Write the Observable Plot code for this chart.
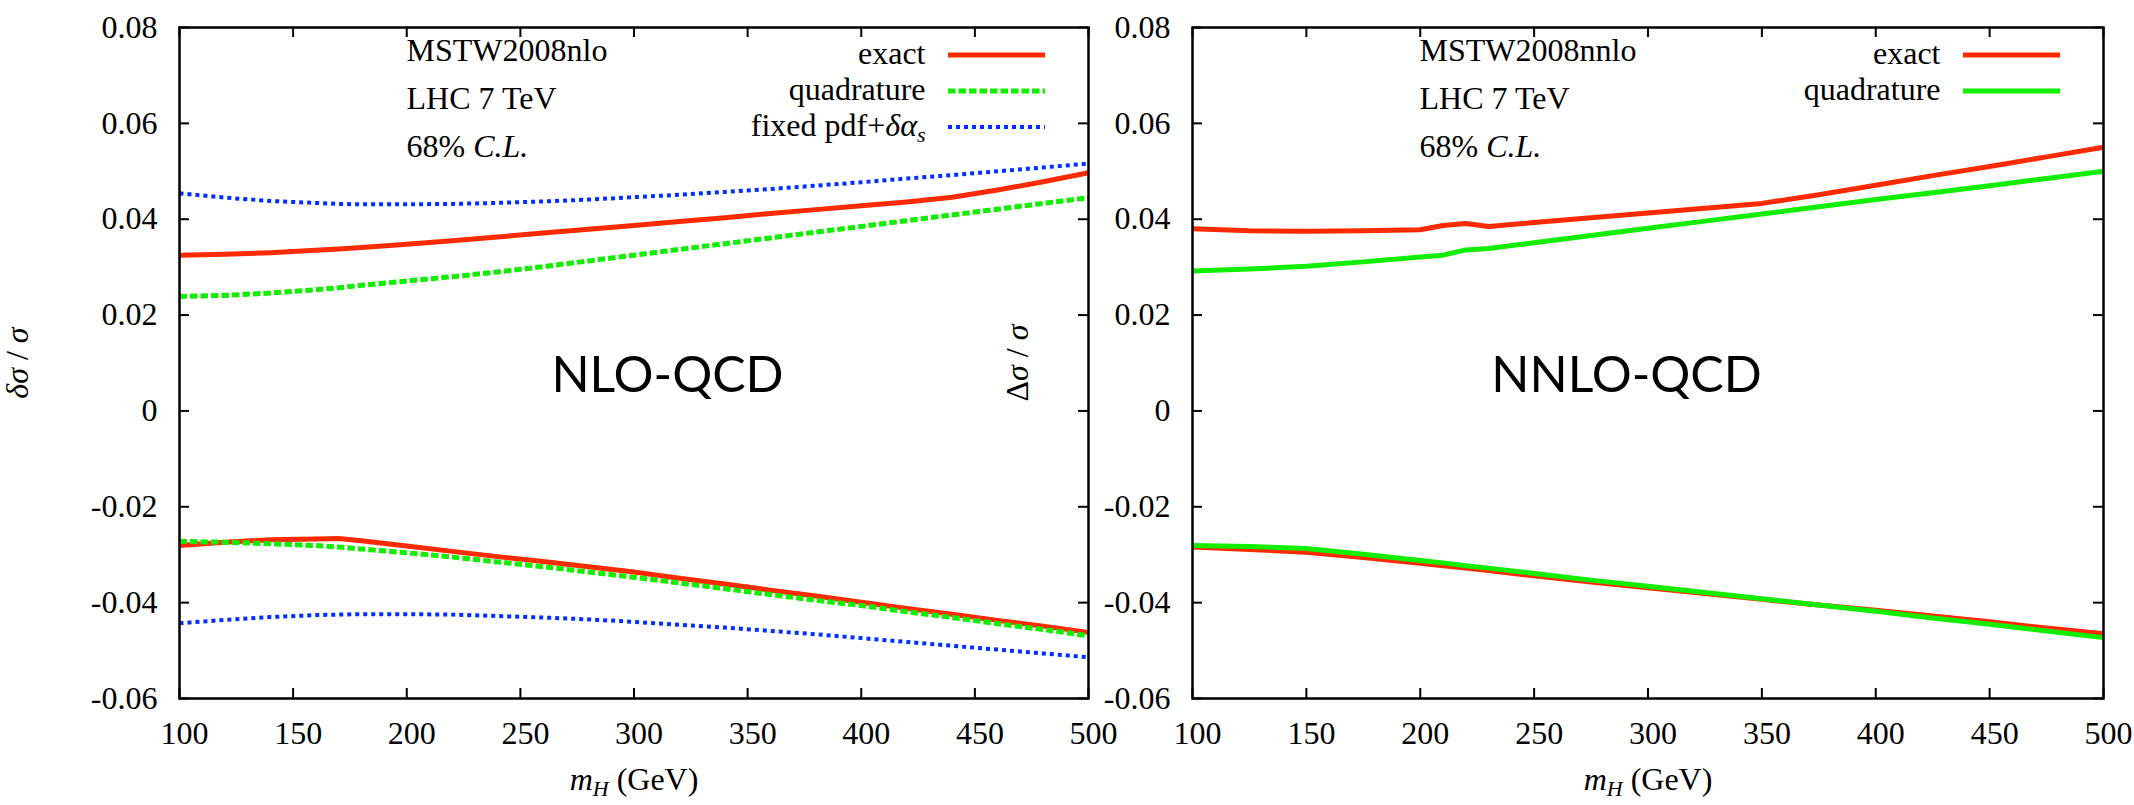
<!DOCTYPE html>
<html><head><meta charset="utf-8">
<script src="https://cdn.jsdelivr.net/npm/d3@7"></script>
<script src="https://cdn.jsdelivr.net/npm/@observablehq/plot@0.6"></script>
<style>
body{margin:0;background:#fff;}
#wrap{position:relative;width:2134px;height:805px;background:#fff;}
#wrap svg{position:absolute;left:0;top:0;}
</style></head><body><div id="wrap"></div>
<script>
// ---------- data ----------
const xTicks = [100,150,200,250,300,350,400,450,500];
const xTickLabels = ["100","150","200","250","300","350","400","450","500"];
const yTicks = [0.08,0.06,0.04,0.02,0,-0.02,-0.04,-0.06];
const yTickLabels = ["0.08","0.06","0.04","0.02","0","-0.02","-0.04","-0.06"];

// NLO panel (MSTW2008nlo)
const mH_nlo =      [100,120,140,160,170,180,200,220,240,260,280,300,320,340,360,380,400,420,440,460,480,500];
const nloExactUp =  [0.0325,0.0327,0.0330,0.0335,0.0338,0.0341,0.0348,0.0355,0.0363,0.0371,0.0379,0.0387,0.0395,0.0403,0.0412,0.0420,0.0428,0.0436,0.0446,0.0461,0.0478,0.0497];
const nloQuadUp =   [0.0239,0.0241,0.0246,0.0253,0.0257,0.0262,0.0271,0.0280,0.0290,0.0301,0.0313,0.0325,0.0337,0.0349,0.0361,0.0373,0.0385,0.0397,0.0409,0.0421,0.0433,0.0445];
const nloFixedUp =  [0.0454,0.0445,0.0438,0.0434,0.0432,0.0431,0.0431,0.0432,0.0434,0.0437,0.0441,0.0446,0.0451,0.0457,0.0463,0.0470,0.0477,0.0485,0.0492,0.0500,0.0508,0.0516];
const nloExactDn =  [-0.0281,-0.0274,-0.0269,-0.0267,-0.0266,-0.0271,-0.0282,-0.0293,-0.0304,-0.0314,-0.0325,-0.0336,-0.0349,-0.0361,-0.0374,-0.0386,-0.0399,-0.0412,-0.0424,-0.0437,-0.0449,-0.0462];
const nloQuadDn =   [-0.0272,-0.0274,-0.0277,-0.0281,-0.0284,-0.0288,-0.0296,-0.0305,-0.0315,-0.0325,-0.0336,-0.0347,-0.0359,-0.0371,-0.0383,-0.0395,-0.0406,-0.0419,-0.0431,-0.0444,-0.0456,-0.0469];
const nloFixedDn =  [-0.0443,-0.0436,-0.0430,-0.0426,-0.0425,-0.0424,-0.0424,-0.0425,-0.0428,-0.0431,-0.0435,-0.0440,-0.0446,-0.0452,-0.0459,-0.0466,-0.0474,-0.0482,-0.0490,-0.0498,-0.0506,-0.0514];

// NNLO panel (MSTW2008nnlo)
const mH_nnlo =      [100,125,150,175,200,210,220,230,250,275,300,325,350,375,400,425,450,475,500];
const nnloExactUp =  [0.0380,0.0376,0.0375,0.0376,0.0378,0.0387,0.0391,0.0385,0.0393,0.0403,0.0413,0.0423,0.0433,0.0451,0.0471,0.0491,0.0510,0.0530,0.0550];
const nnloQuadUp =   [0.0292,0.0296,0.0302,0.0311,0.0321,0.0325,0.0336,0.0339,0.0351,0.0366,0.0381,0.0396,0.0411,0.0426,0.0441,0.0455,0.0470,0.0485,0.0500];
const nnloExactDn =  [-0.0284,-0.0289,-0.0295,-0.0306,-0.0318,-0.0323,-0.0328,-0.0333,-0.0344,-0.0357,-0.0369,-0.0381,-0.0393,-0.0405,-0.0416,-0.0428,-0.0440,-0.0453,-0.0465];
const nnloQuadDn =   [-0.0281,-0.0283,-0.0287,-0.0299,-0.0312,-0.0317,-0.0323,-0.0328,-0.0339,-0.0353,-0.0366,-0.0379,-0.0392,-0.0405,-0.0418,-0.0432,-0.0445,-0.0459,-0.0473];

const nloAnnot = ["MSTW2008nlo","LHC 7 TeV","68% C.L."];
const nnloAnnot = ["MSTW2008nnlo","LHC 7 TeV","68% C.L."];
const nloLegend = ["exact","quadrature","fixed pdf+δα_s"];
const nnloLegend = ["exact","quadrature"];

// ---------- styles ----------
const RED = "#ff2a00", GREEN = "#11ee00", BLUE = "#0030ff";
const styleExact = {stroke: RED, strokeWidth: 5, strokeLinecap: "butt"};
const styleQuadDash = {stroke: GREEN, strokeWidth: 5, strokeDasharray: "7.5,3", strokeLinecap: "butt"};
const styleQuadSolid = {stroke: GREEN, strokeWidth: 5, strokeLinecap: "butt"};
const styleFixed = {stroke: BLUE, strokeWidth: 4, strokeDasharray: "4,4", strokeLinecap: "butt"};

const W = 2134, H = 805, MT = 27, MB = 107;
const SERIF = "Liberation Serif, Times New Roman, serif";
const FS = 32;

function rows(xs, ys) { return xs.map((m, i) => ({m, v: ys[i]})); }

function panel({mL, mR, series, annot, legend, legendStyles, tag, tagDx, ylabel, ylabelDx}) {
  const innerW = W - mL - mR, innerH = H - MT - MB;
  const marks = [
    Plot.tickY(yTicks, {y: d => d, insetRight: innerW - 10, stroke: "#000", strokeWidth: 2}),
    Plot.tickY(yTicks, {y: d => d, insetLeft: innerW - 10, stroke: "#000", strokeWidth: 2}),
    Plot.tickX(xTicks, {x: d => d, insetTop: innerH - 10, stroke: "#000", strokeWidth: 2}),
    Plot.tickX(xTicks, {x: d => d, insetBottom: innerH - 10, stroke: "#000", strokeWidth: 2}),
    ...series.map(s => Plot.line(rows(s.x, s.y), {x: "m", y: "v", ...s.style})),
    Plot.frame({stroke: "#000", strokeWidth: 2.5}),
    Plot.text(yTicks, {y: d => d, text: (d, i) => yTickLabels[i], frameAnchor: "left", dx: -22, textAnchor: "end", lineAnchor: "middle", fontSize: FS, fontFamily: SERIF, fill: "#000"}),
    Plot.text(xTicks, {x: d => d, text: (d, i) => xTickLabels[i], frameAnchor: "bottom", dx: 5, dy: 45, textAnchor: "middle", lineAnchor: "bottom", fontSize: FS, fontFamily: SERIF, fill: "#000"}),
    ...annot.map((t, i) => Plot.text([t], {frameAnchor: "top-left", dx: 227, dy: 33 + 48 * i, textAnchor: "start", lineAnchor: "bottom", fontSize: FS, fontFamily: SERIF, fill: "#000"})),
    ...legend.map((t, i) => Plot.text([t], {frameAnchor: "top-right", dx: -163, dy: 36 + 36 * i, textAnchor: "end", lineAnchor: "bottom", fontSize: FS, fontFamily: SERIF, fill: "#000"})),
    Plot.text([tag], {frameAnchor: "top-left", dx: tagDx, dy: 364, textAnchor: "middle", lineAnchor: "bottom", fontSize: 50, fontFamily: "Lato, Open Sans, sans-serif", fill: "#000"}),
    Plot.text([ylabel], {frameAnchor: "left", dx: ylabelDx, rotate: -90, textAnchor: "middle", lineAnchor: "middle", fontSize: FS, fontFamily: SERIF, fill: "#000"}),
    Plot.text(["m_H (GeV)"], {frameAnchor: "bottom", dy: 91, textAnchor: "middle", lineAnchor: "bottom", fontSize: FS, fontFamily: SERIF, fill: "#000"})
  ];
  const svg = Plot.plot({
    width: W, height: H,
    marginLeft: mL, marginRight: mR, marginTop: MT, marginBottom: MB,
    x: {domain: [100, 500], axis: null},
    y: {domain: [-0.06, 0.08], axis: null},
    style: {background: "transparent", fontFamily: SERIF, overflow: "visible"},
    marks
  });
  // legend samples
  const right = W - mR;
  const sel = d3.select(svg);
  legendStyles.forEach((st, i) => {
    const ln = sel.append("line")
      .attr("x1", right - 140).attr("x2", right - 43)
      .attr("y1", MT + 28 + 36 * i).attr("y2", MT + 28 + 36 * i)
      .attr("stroke", st.stroke).attr("stroke-width", st.strokeWidth)
      .attr("stroke-linecap", "butt");
    if (st.strokeDasharray) ln.attr("stroke-dasharray", st.strokeDasharray);
  });
  // rich text (italics, subscripts)
  svg.querySelectorAll("text").forEach(t => {
    const c = t.textContent;
    if (c === "68% C.L.") t.innerHTML = '68% <tspan font-style="italic">C.L.</tspan>';
    else if (c === "m_H (GeV)") t.innerHTML = '<tspan font-style="italic">m</tspan><tspan font-style="italic" font-size="22" dy="6">H</tspan><tspan dy="-6"> (GeV)</tspan>';
    else if (c === "fixed pdf+δα_s") t.innerHTML = 'fixed pdf+<tspan font-style="italic">δα</tspan><tspan font-style="italic" font-size="22" dy="6">s</tspan>';
    else if (c === "δσ / σ") t.innerHTML = '<tspan font-style="italic">δσ</tspan> / <tspan font-style="italic">σ</tspan>';
    else if (c === "Δσ / σ") t.innerHTML = 'Δ<tspan font-style="italic">σ</tspan> / <tspan font-style="italic">σ</tspan>';
  });
  return svg;
}

const wrap = document.getElementById("wrap");
wrap.appendChild(panel({
  mL: 179, mR: W - 1088,
  series: [
    {x: mH_nlo, y: nloExactUp, style: styleExact},
    {x: mH_nlo, y: nloExactDn, style: styleExact},
    {x: mH_nlo, y: nloQuadUp, style: styleQuadDash},
    {x: mH_nlo, y: nloQuadDn, style: styleQuadDash},
    {x: mH_nlo, y: nloFixedUp, style: styleFixed},
    {x: mH_nlo, y: nloFixedDn, style: styleFixed}
  ],
  annot: nloAnnot, legend: nloLegend,
  legendStyles: [styleExact, styleQuadDash, styleFixed],
  tag: "NLO-QCD", tagDx: 488,
  ylabel: "δσ / σ", ylabelDx: -162
}));
wrap.appendChild(panel({
  mL: 1192, mR: W - 2103,
  series: [
    {x: mH_nnlo, y: nnloExactUp, style: styleExact},
    {x: mH_nnlo, y: nnloExactDn, style: styleExact},
    {x: mH_nnlo, y: nnloQuadUp, style: styleQuadSolid},
    {x: mH_nnlo, y: nnloQuadDn, style: styleQuadSolid}
  ],
  annot: nnloAnnot, legend: nnloLegend,
  legendStyles: [styleExact, styleQuadSolid],
  tag: "NNLO-QCD", tagDx: 434,
  ylabel: "Δσ / σ", ylabelDx: -175
}));
</script></body></html>
